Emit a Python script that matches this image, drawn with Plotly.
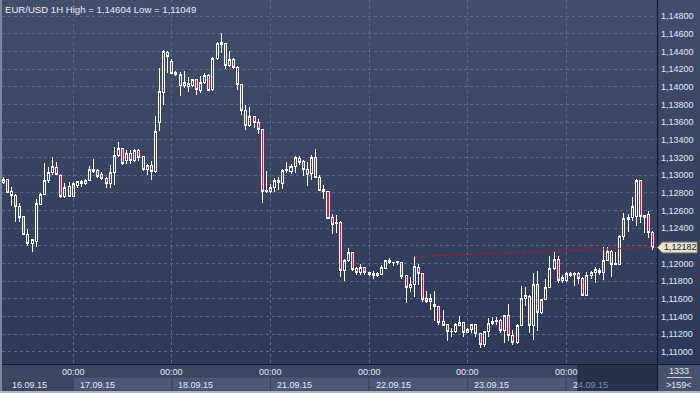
import plotly.graph_objects as go

# ---------------- data ----------------
opens = [1.1292, 1.12956, 1.1281, 1.12775, 1.1265, 1.1253, 1.1233, 1.12226, 1.12247, 1.12673,
         1.12786, 1.12945, 1.1303, 1.13088, 1.1300, 1.12756, 1.1287, 1.1276, 1.12880, 1.1290,
         1.12907, 1.12945, 1.1304, 1.1305, 1.13005, 1.12967, 1.12907, 1.13027, 1.13227, 1.13303,
         1.1317, 1.13247, 1.13163, 1.1328, 1.13216, 1.13066, 1.13114, 1.13038, 1.13593, 1.13933,
         1.14389, 1.14291, 1.14164, 1.14012, 1.14012, 1.1400, 1.1401, 1.14077, 1.1396, 1.1405,
         1.1413, 1.13964, 1.14322, 1.1448, 1.1449, 1.14238, 1.1431, 1.1422, 1.1402, 1.13726,
         1.13567, 1.1366, 1.1359, 1.1352, 1.1281, 1.1281, 1.12862, 1.12945, 1.1291, 1.1305,
         1.13038, 1.13103, 1.1319, 1.1315, 1.13066, 1.1302, 1.1320, 1.12975, 1.1284, 1.1282,
         1.1252, 1.1245, 1.1246, 1.11927, 1.1204, 1.12127, 1.1194, 1.1190, 1.1195, 1.1190,
         1.1187, 1.1187, 1.1188, 1.11945, 1.1203, 1.1201, 1.1201, 1.12011, 1.1186, 1.11727,
         1.11765, 1.1196, 1.1189, 1.1160, 1.1157, 1.1154, 1.1151, 1.1134, 1.1131, 1.1123,
         1.11227, 1.1130, 1.1133, 1.1122, 1.1125, 1.1131, 1.1121, 1.11079, 1.11228, 1.1132,
         1.1134, 1.1136, 1.1124, 1.11409, 1.1119, 1.11105, 1.1130, 1.11607, 1.1163, 1.1130,
         1.11765, 1.11444, 1.11595, 1.1173, 1.11946, 1.12048, 1.1181, 1.1181, 1.1187, 1.1188,
         1.1189, 1.1183, 1.1164, 1.1186, 1.11895, 1.1192, 1.1190, 1.1204, 1.12132, 1.1199,
         1.11995, 1.12303, 1.1250, 1.1252, 1.1253, 1.12937, 1.1254, 1.1255, 1.12354]
highs = [1.1298, 1.12960, 1.12865, 1.12783, 1.1268, 1.1254, 1.1239, 1.1228, 1.12726, 1.1280,
         1.1314, 1.1309, 1.1321, 1.1315, 1.1301, 1.1291, 1.1292, 1.1292, 1.1293, 1.1295,
         1.1296, 1.1310, 1.1318, 1.1307, 1.1304, 1.1298, 1.1311, 1.1332, 1.1338, 1.1331,
         1.1329, 1.1328, 1.1330, 1.1330, 1.1322, 1.1313, 1.1316, 1.1367, 1.14208, 1.1442,
         1.1440, 1.1431, 1.1418, 1.1417, 1.1418, 1.1411, 1.1409, 1.1409, 1.1412, 1.1416,
         1.1414, 1.1434, 1.1451, 1.14604, 1.1450, 1.1440, 1.1432, 1.1423, 1.1403, 1.1379,
         1.1377, 1.1367, 1.1363, 1.1352, 1.1305, 1.1290, 1.1297, 1.1298, 1.1307, 1.1315,
         1.1313, 1.1322, 1.1322, 1.1317, 1.1315, 1.1323, 1.1330, 1.1300, 1.1289, 1.1282,
         1.1256, 1.1255, 1.1248, 1.1205, 1.1218, 1.1213, 1.1196, 1.1199, 1.1196, 1.11905,
         1.1192, 1.1191, 1.1198, 1.1204, 1.1206, 1.1202, 1.1203, 1.1202, 1.1187, 1.1185,
         1.1208, 1.1199, 1.1189, 1.1169, 1.1166, 1.1169, 1.1152, 1.1148, 1.1131, 1.1127,
         1.1133, 1.1141, 1.1134, 1.1127, 1.1132, 1.1132, 1.1122, 1.1124, 1.1138, 1.1139,
         1.1140, 1.1137, 1.1142, 1.1154, 1.1125, 1.1132, 1.11746, 1.1174, 1.1164, 1.1189,
         1.1192, 1.1160, 1.1182, 1.12085, 1.12134, 1.1208, 1.1187, 1.1190, 1.1191, 1.1191,
         1.1191, 1.1185, 1.1190, 1.1192, 1.1196, 1.1195, 1.12191, 1.1219, 1.1215, 1.1213,
         1.1232, 1.1257, 1.1256, 1.12756, 1.1296, 1.1294, 1.1255, 1.1259, 1.1237]
lows = [1.1290, 1.12795, 1.12654, 1.12473, 1.1247, 1.1232, 1.1220, 1.1213, 1.1219, 1.1266,
        1.1278, 1.1291, 1.1300, 1.1300, 1.1274, 1.1274, 1.1275, 1.1275, 1.1286, 1.1287,
        1.1289, 1.1294, 1.1302, 1.1297, 1.1294, 1.1285, 1.1285, 1.1289, 1.1321, 1.1312,
        1.1313, 1.1313, 1.1315, 1.1316, 1.1305, 1.1300, 1.1294, 1.1303, 1.13504, 1.13793,
        1.14152, 1.1414, 1.1412, 1.13895, 1.1399, 1.13944, 1.1400, 1.13907, 1.1393, 1.1403,
        1.1395, 1.1395, 1.1430, 1.1438, 1.14197, 1.1422, 1.1420, 1.1396, 1.1368, 1.1351,
        1.1355, 1.1353, 1.1346, 1.12688, 1.1280, 1.1280, 1.1281, 1.1283, 1.1284, 1.1303,
        1.1301, 1.1303, 1.1311, 1.1299, 1.1288, 1.1295, 1.1297, 1.1283, 1.1273, 1.1250,
        1.1233, 1.1235, 1.11851, 1.1180, 1.1202, 1.1192, 1.1187, 1.1187, 1.1187, 1.1186,
        1.1182, 1.1185, 1.1187, 1.1194, 1.1200, 1.1197, 1.1198, 1.1183, 1.1155, 1.1168,
        1.1162, 1.1176, 1.1157, 1.1155, 1.1148, 1.1135, 1.1130, 1.1129, 1.11123, 1.1117,
        1.1121, 1.1129, 1.1117, 1.1121, 1.1121, 1.1117, 1.11049, 1.1106, 1.1117, 1.1130,
        1.1130, 1.1122, 1.1110, 1.11123, 1.11079, 1.1109, 1.1129, 1.1152, 1.1122, 1.1114,
        1.1124, 1.1143, 1.1159, 1.1172, 1.1193, 1.1178, 1.1178, 1.1179, 1.1185, 1.1175,
        1.1177, 1.1163, 1.1163, 1.1182, 1.1178, 1.1187, 1.1181, 1.1203, 1.11845, 1.1198,
        1.1198, 1.1227, 1.1236, 1.1248, 1.1242, 1.1246, 1.1235, 1.1229, 1.1215]
closes = [1.12956, 1.12801, 1.1277, 1.12643, 1.1252, 1.1233, 1.1223, 1.12268, 1.12681, 1.12786,
          1.12945, 1.13032, 1.1310, 1.13009, 1.12756, 1.12857, 1.1276, 1.12911, 1.12925, 1.1293,
          1.12945, 1.13066, 1.13066, 1.1299, 1.12967, 1.12907, 1.13027, 1.13227, 1.13303, 1.13133,
          1.13247, 1.13163, 1.13284, 1.1320, 1.13066, 1.13114, 1.13038, 1.13497, 1.13944, 1.14396,
          1.1434, 1.14152, 1.14133, 1.14142, 1.14047, 1.1404, 1.14077, 1.13964, 1.1405, 1.1413,
          1.1396, 1.14322, 1.1449, 1.14495, 1.14238, 1.14311, 1.1422, 1.1402, 1.13726, 1.13567,
          1.13661, 1.1359, 1.13517, 1.12811, 1.1283, 1.12862, 1.12945, 1.12914, 1.13058, 1.1306,
          1.13103, 1.1320, 1.1314, 1.13066, 1.1301, 1.1320, 1.12975, 1.12831, 1.1281, 1.12511,
          1.12443, 1.1246, 1.11927, 1.1204, 1.12127, 1.11935, 1.1190, 1.1195, 1.1190, 1.1188,
          1.1189, 1.1189, 1.1195, 1.1203, 1.1201, 1.12015, 1.1202, 1.11851, 1.11727, 1.11765,
          1.11964, 1.1189, 1.11588, 1.1157, 1.1160, 1.1151, 1.11335, 1.1130, 1.11227, 1.11232,
          1.11314, 1.1133, 1.1122, 1.1125, 1.1131, 1.1121, 1.11079, 1.11228, 1.11324, 1.1135,
          1.1136, 1.1124, 1.11409, 1.1119, 1.11105, 1.1130, 1.11607, 1.11636, 1.1130, 1.11765,
          1.11444, 1.11595, 1.1173, 1.11946, 1.12048, 1.11812, 1.1184, 1.1189, 1.1189, 1.1189,
          1.1183, 1.1164, 1.1187, 1.11895, 1.1193, 1.1190, 1.1204, 1.12132, 1.1199, 1.12005,
          1.12303, 1.12511, 1.1252, 1.12651, 1.12937, 1.1253, 1.1252, 1.12354, 1.12182]

day_labels = ["16.09.15", "17.09.15", "18.09.15", "21.09.15", "22.09.15", "23.09.15", "24.09.15"]
day_start_bar = [17, 41, 65, 89, 113, 137]   # bar index of 00:00 for 17.09 .. 24.09
time_label = "00:00"
y_ticks = [1.110, 1.112, 1.114, 1.116, 1.118, 1.120, 1.122, 1.124, 1.126, 1.128,
           1.130, 1.132, 1.134, 1.136, 1.138, 1.140, 1.142, 1.144, 1.146, 1.148]
trend_x = [100, 159]
trend_y = [1.1208, 1.12185]
title_text = "EUR/USD 1H High = 1,14604 Low = 1,11049"
bars_total = "1333"
bars_visible = ">159<"

# ---------------- layout geometry ----------------
W, H = 700, 393
ML, MR, MT, MB = 2, 43, 0, 29
PW, PH = W - ML - MR, H - MT - MB
FONT = "Liberation Sans"
X0, X1 = -0.316, 159.05
Y0, Y1 = 1.10864, 1.14981


def px(xp):
    return (xp - ML) / PW


def py(yp):
    return (PH + MT - yp) / PH


def fmt(v):
    return f"{v:.5f}".replace(".", ",")


idx = list(range(len(closes)))

fig = go.Figure()
fig.add_trace(go.Candlestick(
    x=idx, open=opens, high=highs, low=lows, close=closes,
    increasing=dict(line=dict(color="#ffffff", width=1), fillcolor="rgba(0,0,0,0)"),
    decreasing=dict(line=dict(color="#ffffff", width=1), fillcolor="#e0163a"),
    whiskerwidth=0, hoverinfo="skip", showlegend=False,
))
fig.add_trace(go.Scatter(
    x=trend_x, y=trend_y, mode="lines",
    line=dict(color="#d01028", width=1, dash="4px,2px"),
    hoverinfo="skip", showlegend=False,
))

shapes = []
# vertical gradient background (plot + right price panel)
top_c = (64, 78, 108)
bot_c = (45, 57, 88)
N = 52
for k in range(N):
    t = k / (N - 1)
    c = tuple(round(top_c[j] + (bot_c[j] - top_c[j]) * t) for j in range(3))
    y0 = PH * k / N
    y1 = PH * (k + 1) / N + 0.6
    shapes.append(dict(type="rect", xref="paper", yref="paper",
                       x0=px(0), x1=px(W), y0=py(y1), y1=py(y0),
                       fillcolor=f"rgb{c}", line=dict(width=0), layer="below"))
# bottom time panel
shapes.append(dict(type="rect", xref="paper", yref="paper", x0=px(0), x1=px(W),
                   y0=py(H), y1=py(364), fillcolor="#3a4662", line=dict(width=0), layer="below"))

ticks_px = [ML + (b - X0) / (X1 - X0) * PW for b in day_start_bar]
edges = ticks_px + [657]
for i in range(len(ticks_px)):
    shapes.append(dict(type="rect", xref="paper", yref="paper",
                       x0=px(edges[i]), x1=px(edges[i + 1]), y0=py(391), y1=py(377),
                       fillcolor="#4b5774", line=dict(color="#3a4560", width=1), layer="below"))
# dark overlay at right of time panel
shapes.append(dict(type="rect", xref="paper", yref="paper", x0=px(577), x1=px(657),
                   y0=py(391), y1=py(364), fillcolor="#27314a", line=dict(width=0),
                   layer="below"))
# corner box
shapes.append(dict(type="rect", xref="paper", yref="paper", x0=px(657), x1=px(W),
                   y0=py(391), y1=py(364), fillcolor="#46526e", line=dict(width=0), layer="below"))
# separators
shapes.append(dict(type="line", xref="paper", yref="paper", x0=px(657.5), x1=px(657.5),
                   y0=py(H), y1=py(0), line=dict(color="#151b2a", width=1.2)))
shapes.append(dict(type="line", xref="paper", yref="paper", x0=px(0), x1=px(W),
                   y0=py(364.5), y1=py(364.5), line=dict(color="#151b2a", width=1.2)))
shapes.append(dict(type="line", xref="paper", yref="paper", x0=px(667), x1=px(692),
                   y0=py(377.5), y1=py(377.5), line=dict(color="#c9cfdb", width=1)))
# outer border (left + bottom)
shapes.append(dict(type="rect", xref="paper", yref="paper", x0=px(0), x1=px(2),
                   y0=py(H), y1=py(0), fillcolor="#7b88a0", line=dict(width=0)))
shapes.append(dict(type="rect", xref="paper", yref="paper", x0=px(0), x1=px(W),
                   y0=py(H), y1=py(391), fillcolor="#aeb6c4", line=dict(width=0)))

# last price tag
last = closes[-1]
hh = 5.3 / (PH / (Y1 - Y0))
tag_path = (f"M {px(657.5)},{last} L {px(662.5)},{last + hh} L {px(697)},{last + hh} "
            f"L {px(697)},{last - hh} L {px(662.5)},{last - hh} Z")
shapes.append(dict(type="path", xref="paper", yref="y", path=tag_path,
                   fillcolor="#e7e4cd", line=dict(color="#9c9a88", width=1), layer="above"))

ann = []
ann.append(dict(text=title_text, xref="paper", yref="paper", x=px(3), y=py(9),
                xanchor="left", yanchor="middle", showarrow=False,
                font=dict(family=FONT, size=9.6, color="#e8ecf3")))
ann.append(dict(text=fmt(last), xref="paper", yref="y", x=px(680), y=last,
                xanchor="center", yanchor="middle", showarrow=False,
                font=dict(family=FONT, size=9, color="#1c1c1c")))
for b in day_start_bar:
    ann.append(dict(text=time_label, xref="x", yref="paper", x=b, y=py(372),
                    xanchor="center", yanchor="middle", showarrow=False,
                    font=dict(family=FONT, size=9, color="#e2e7f0")))
ann.append(dict(text=day_labels[0], xref="x", yref="paper", x=0, xshift=7, y=py(384.5),
                xanchor="left", yanchor="middle", showarrow=False,
                font=dict(family=FONT, size=9, color="#e2e7f0")))
for i, b in enumerate(day_start_bar):
    lab = day_labels[i + 1]
    if i == len(day_start_bar) - 1:
        lab = f"{lab[0]}<span style='color:#7f8aa2'>{lab[1:]}</span>"
    ann.append(dict(text=lab, xref="x", yref="paper", x=b, xshift=4.5, y=py(384.5),
                    xanchor="left", yanchor="middle", showarrow=False,
                    font=dict(family=FONT, size=9, color="#e2e7f0")))
ann.append(dict(text=bars_total, xref="paper", yref="paper", x=px(679), y=py(371),
                xanchor="center", yanchor="middle", showarrow=False,
                font=dict(family=FONT, size=9, color="#e2e7f0")))
ann.append(dict(text=bars_visible, xref="paper", yref="paper", x=px(679), y=py(384.5),
                xanchor="center", yanchor="middle", showarrow=False,
                font=dict(family=FONT, size=9, color="#e2e7f0")))

grid = dict(showgrid=True, gridcolor="#5a6989", griddash="3px,3px", gridwidth=1,
            zeroline=False, showline=False, ticks="", fixedrange=True)

fig.update_layout(
    width=W, height=H,
    margin=dict(l=ML, r=MR, t=MT, b=MB, pad=0),
    paper_bgcolor="#3a4662", plot_bgcolor="rgba(0,0,0,0)",
    font=dict(family=FONT, size=9, color="#e2e7f0"),
    shapes=shapes, annotations=ann, showlegend=False,
    xaxis=dict(range=[X0, X1], tickvals=day_start_bar, showticklabels=False,
               rangeslider=dict(visible=False), **grid),
    yaxis=dict(range=[Y0, Y1], side="right", tickvals=y_ticks,
               ticktext=["" if abs(v - 1.122) < 1e-9 else fmt(v) for v in y_ticks],
               tickfont=dict(family=FONT, size=9, color="#e2e7f0"),
               ticklabelstandoff=3, **grid),
)

post = (
    "document.body.style.margin='0px';document.body.style.overflow='hidden';"
    "var s=document.createElement('style');"
    "s.innerHTML='.boxlayer path{shape-rendering:crispEdges}';"
    "document.head.appendChild(s);"
)
fig.write_html("out.html", config={"displayModeBar": False}, post_script=post)
